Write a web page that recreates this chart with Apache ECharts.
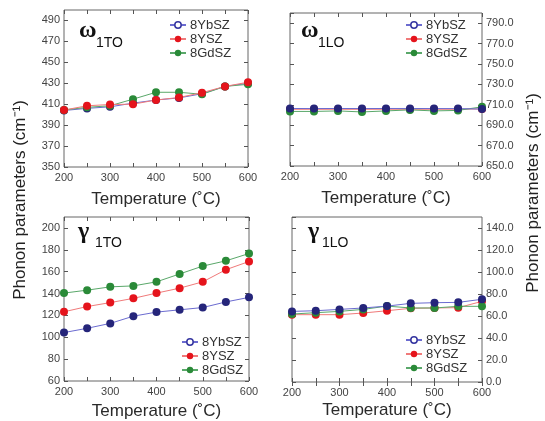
<!DOCTYPE html>
<html><head><meta charset="utf-8">
<script src="https://cdn.jsdelivr.net/npm/echarts@6/dist/echarts.min.js"></script>
<style>html,body{margin:0;padding:0;background:#fff}#c{width:545px;height:421px}</style>
</head><body><div id="c"></div>
<script>
const temps = [200,250,300,350,400,450,500,550,600];
const seriesNames = ['8YbSZ','8YSZ','8GdSZ'];
// omega 1TO
const w1TO_Yb = [404,406,407.5,411,414,416,420,427,430];
const w1TO_Y  = [404.4,408.5,409.7,410,414,416.4,421,427,431];
const w1TO_Gd = [404.5,407,408.5,414.8,421.4,421.4,419.5,427,429];
// omega 1LO
const w1LO_Yb = [706.4,706.3,706.4,706.3,706.4,706.4,706.3,706.3,705.8];
const w1LO_Y  = [705.6,705.6,705.6,705.6,705.6,705.6,705.6,705.6,706];
const w1LO_Gd = [703.5,703.5,704,703,704,705,704,704.5,708];
// gamma 1TO
const g1TO_Yb = [104.3,108.2,112.7,119.3,123,125.1,127.2,132.3,136.5];
const g1TO_Y  = [123.3,128.1,131.7,135.6,140.4,144.9,150.7,161.8,169.3];
const g1TO_Gd = [140.4,143.1,146.1,147,150.7,157.9,165.1,169.9,176.6];
// gamma 1LO
const g1LO_Yb = [64.2,64.8,66,67.3,69,71.5,72.1,72.4,75.2];
const g1LO_Y  = [61.2,61.2,61.2,62.7,64.8,67,67.3,67.6,73.3];
const g1LO_Gd = [61.8,63,64.2,66,69,67.3,67.3,68.8,68.8];
// axis ranges [min, max, interval]
const xRange = [200,600,50];
const yTL = [350,500,20];
const yTR = [650,800,20];
const yBL = [60,210,20];
const yBR = [0,150,20];

const colors = {
  '8YbSZ': {line:'#6b6bd0', sym:'#25257a'},
  '8YSZ':  {line:'#f07a7a', sym:'#e5141c'},
  '8GdSZ': {line:'#5aa86a', sym:'#2a8a38'}
};
const panels = [
  {grid:{left:64,width:184,top:10,height:157}, y:yTL, right:false, dec:0,
   data:{'8YbSZ':w1TO_Yb,'8YSZ':w1TO_Y,'8GdSZ':w1TO_Gd}, order:['8YbSZ','8GdSZ','8YSZ'], gap:24,
   legend:{left:169,top:18}},
  {grid:{left:290,width:192,top:13,height:153}, y:yTR, right:true, dec:1,
   data:{'8YbSZ':w1LO_Yb,'8YSZ':w1LO_Y,'8GdSZ':w1LO_Gd}, order:['8YSZ','8GdSZ','8YbSZ'], gap:24,
   legend:{left:405,top:18}},
  {grid:{left:64,width:185,top:217,height:166}, y:yBL, right:false, dec:0,
   data:{'8YbSZ':g1TO_Yb,'8YSZ':g1TO_Y,'8GdSZ':g1TO_Gd}, order:['8YbSZ','8YSZ','8GdSZ'], gap:22,
   legend:{left:181,top:335}},
  {grid:{left:292,width:190,top:217,height:165}, y:yBR, right:true, dec:1,
   data:{'8YbSZ':g1LO_Yb,'8YSZ':g1LO_Y,'8GdSZ':g1LO_Gd}, order:['8YSZ','8GdSZ','8YbSZ'], gap:20,
   legend:{left:405,top:333}}
];
const font = 'Liberation Sans, Arial, sans-serif';
const grids=[], xAxes=[], yAxes=[], series=[], legends=[];
panels.forEach((p,i)=>{
  grids.push(Object.assign({show:true, borderColor:'#666', borderWidth:1, backgroundColor:'transparent'}, p.grid));
  const common = {type:'value', min:xRange[0], max:xRange[1], interval:xRange[2], gridIndex:i,
    splitLine:{show:false}, axisLine:{show:false}};
  xAxes.push(Object.assign({}, common, {position:'bottom',
    axisTick:{show:true, inside:true, length:4, lineStyle:{color:'#555'}},
    axisLabel:{show:true, fontSize:11, color:'#444', margin:5, fontFamily:font,
      formatter:v=> (v%100===0? String(v):'')},
    name:'Temperature (˚C)', nameLocation:'middle', nameGap:p.gap,
    nameTextStyle:{fontSize:17, color:'#2a2a2a', fontFamily:font}}));
  xAxes.push(Object.assign({}, common, {position:'top',
    axisTick:{show:true, inside:true, length:4, lineStyle:{color:'#555'}}, axisLabel:{show:false}}));
  const yc = {type:'value', min:p.y[0], max:p.y[1], interval:p.y[2], gridIndex:i,
    splitLine:{show:false}, axisLine:{show:false}};
  yAxes.push(Object.assign({}, yc, {position:p.right?'right':'left',
    axisTick:{show:true, inside:true, length:4, lineStyle:{color:'#555'}},
    axisLabel:{show:true, fontSize:11, color:'#444', margin:4, fontFamily:font, showMaxLabel:false,
      formatter:v=>v.toFixed(p.dec)}}));
  yAxes.push(Object.assign({}, yc, {position:p.right?'left':'right',
    axisTick:{show:true, inside:true, length:4, lineStyle:{color:'#555'}}, axisLabel:{show:false}}));
  p.order.forEach(nm=>{
    series.push({type:'line', name:nm, xAxisIndex:2*i, yAxisIndex:2*i,
      data: temps.map((t,k)=>[t, p.data[nm][k]]),
      symbol:'circle', symbolSize:8, showAllSymbol:true,
      lineStyle:{color:colors[nm].line, width:1},
      itemStyle:{color:colors[nm].sym},
      emphasis:{disabled:true}, animation:false});
  });
  legends.push({orient:'vertical', left:p.legend.left, top:p.legend.top, itemGap:0,
    itemWidth:16, itemHeight:8, padding:0,
    textStyle:{fontSize:13, color:'#333', fontFamily:font, lineHeight:14, padding:[0,0,0,-1]},
    data:[{name:'8YbSZ', itemStyle:{color:'#fff', borderColor:'#3535a0', borderWidth:1.5}},
          {name:'8YSZ'},{name:'8GdSZ'}]});
});
const greek = (x,y,ch,sub,sx,sy)=>[
  {type:'text', x:x, y:y, style:{text:ch, fontSize:24, fontWeight:'bold', fontFamily:'Liberation Serif, serif', fill:'#111', verticalAlign:'middle'}},
  {type:'text', x:sx, y:sy, style:{text:sub, fontSize:14, fontFamily:font, fill:'#111', verticalAlign:'middle'}}
];
const graphic = [].concat(
  greek(79,31,'ω','1TO',96,43),
  greek(301,31,'ω','1LO',318,43),
  greek(78,232,'γ','1TO',95,243),
  greek(308,232,'γ','1LO',322,243),
  [
   {type:'text', x:20, y:200, rotation:Math.PI/2, style:{text:'Phonon parameters (cm⁻¹)', fontSize:17, fontFamily:font, fill:'#222', align:'center', verticalAlign:'middle'}},
   {type:'text', x:533, y:193, rotation:Math.PI/2, style:{text:'Phonon parameters (cm⁻¹)', fontSize:17, fontFamily:font, fill:'#222', align:'center', verticalAlign:'middle'}}
  ]
);
const chart = echarts.init(document.getElementById('c'), null, {renderer:'canvas'});
chart.setOption({animation:false, backgroundColor:'#fff', grid:grids, xAxis:xAxes, yAxis:yAxes,
  series:series, legend:legends, graphic:graphic});
</script></body></html>
